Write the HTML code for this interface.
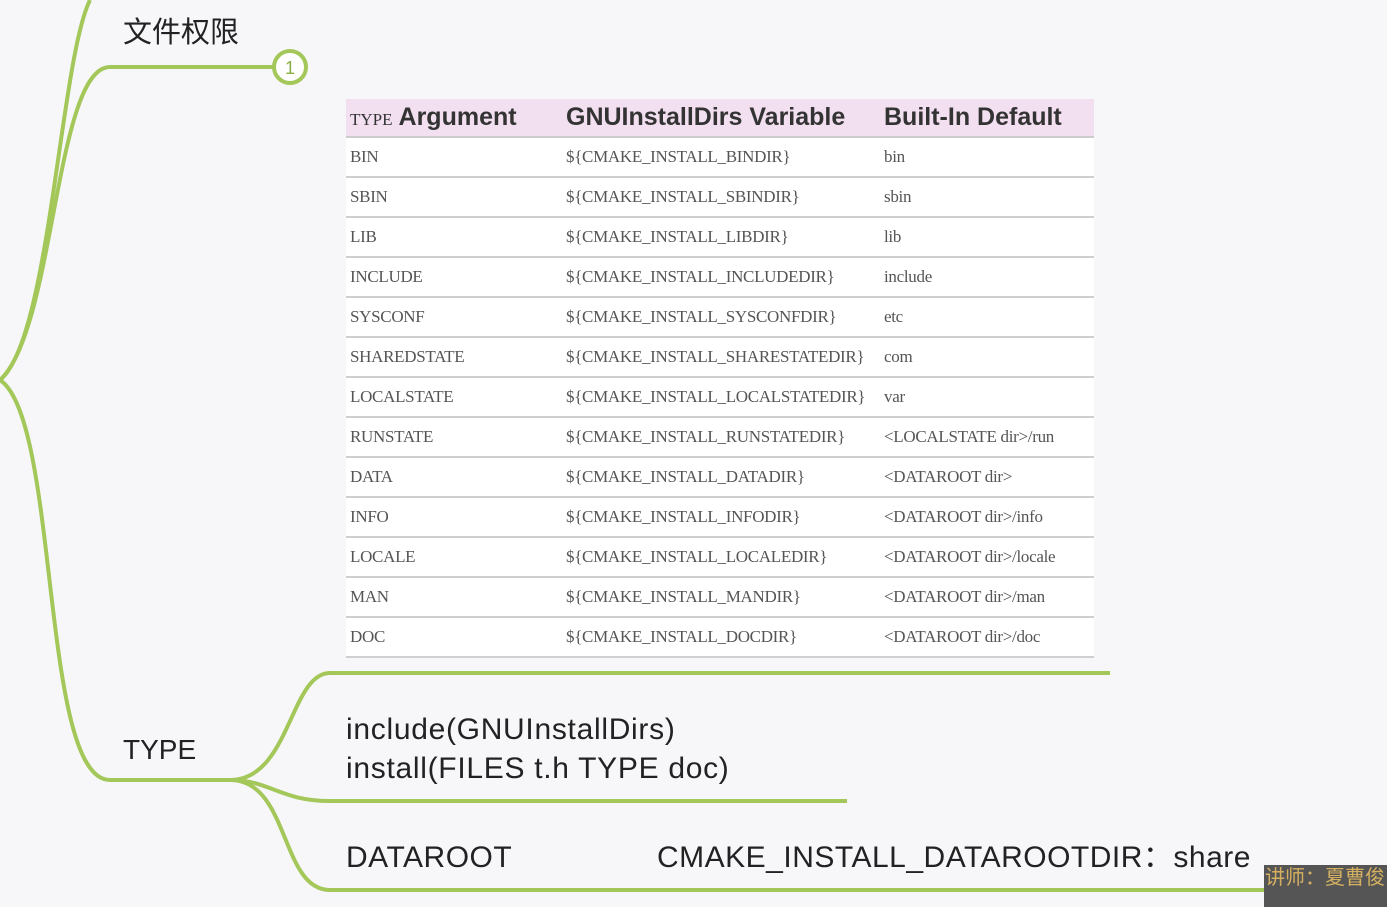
<!DOCTYPE html>
<html><head><meta charset="utf-8"><style>
body{margin:0;width:1387px;height:907px;background:#f7f7fa;position:relative;overflow:hidden;font-family:"Liberation Sans","Noto Sans CJK SC",sans-serif}
.t{position:absolute;color:#222;white-space:nowrap;line-height:36px}
table{position:absolute;left:346px;top:99px;width:748px;border-collapse:collapse;background:#fff;table-layout:fixed}
th{background:#f2dff0;height:37px;text-align:left;font-family:"Liberation Sans",sans-serif;font-size:25px;color:#333;padding:0 0 0 4px;font-weight:bold;border-bottom:2px solid #ccc;white-space:nowrap;overflow:hidden}
td{height:38px;border-bottom:2px solid #cfcfcf;font-family:"Liberation Serif",serif;font-size:17px;letter-spacing:-0.3px;color:#555;padding:0 0 0 4px;white-space:nowrap;overflow:hidden}
</style></head><body>
<svg width="1387" height="907" style="position:absolute;left:0;top:0" fill="none" stroke="#a4c75a" stroke-width="4">
<path d="M0,380 C50,340 60,60 90,0"/>
<path d="M0,380 C55,330 55,67 110,67 L273,67"/>
<circle cx="290" cy="67" r="16" fill="#fff"/>
<path d="M0,380 C60,420 40,780 110,780 L230,780"/>
<path d="M230,780 C290,780 290,673 330,673 L1110,673"/>
<path d="M230,780 C270,780 280,801 330,801 L847,801"/>
<path d="M230,780 C290,780 280,890 330,890 L1265,890"/>
</svg>
<div class="t" style="left:285px;top:50px;font-size:18px;color:#8aae44">1</div>
<div class="t" style="left:123px;top:15px;font-size:29px">文件权限</div>
<div class="t" style="left:123px;top:732px;font-size:28px">TYPE</div>
<div class="t" style="left:346px;top:710px;font-size:30px;line-height:39px;letter-spacing:0.7px">include(GNUInstallDirs)<br>install(FILES t.h TYPE doc)</div>
<div class="t" style="left:346px;top:840px;font-size:30px;letter-spacing:0.5px">DATAROOT</div>
<div class="t" style="left:657px;top:840px;font-size:30px;letter-spacing:0.5px">CMAKE_INSTALL_DATAROOTDIR：share</div>
<div style="position:absolute;left:1264px;top:865px;width:123px;height:42px;background:#555"></div>
<div class="t" style="left:1265px;top:860px;font-size:20px;color:#d4b060">讲师：夏曹俊</div>
<table>
<tr><th style="width:212px"><span style="font-family:'Liberation Serif',serif;font-weight:normal;font-size:17px">TYPE</span> Argument</th><th style="width:314px">GNUInstallDirs Variable</th><th>Built-In Default</th></tr>
<tr><td>BIN</td><td>${CMAKE_INSTALL_BINDIR}</td><td>bin</td></tr>
<tr><td>SBIN</td><td>${CMAKE_INSTALL_SBINDIR}</td><td>sbin</td></tr>
<tr><td>LIB</td><td>${CMAKE_INSTALL_LIBDIR}</td><td>lib</td></tr>
<tr><td>INCLUDE</td><td>${CMAKE_INSTALL_INCLUDEDIR}</td><td>include</td></tr>
<tr><td>SYSCONF</td><td>${CMAKE_INSTALL_SYSCONFDIR}</td><td>etc</td></tr>
<tr><td>SHAREDSTATE</td><td>${CMAKE_INSTALL_SHARESTATEDIR}</td><td>com</td></tr>
<tr><td>LOCALSTATE</td><td>${CMAKE_INSTALL_LOCALSTATEDIR}</td><td>var</td></tr>
<tr><td>RUNSTATE</td><td>${CMAKE_INSTALL_RUNSTATEDIR}</td><td>&lt;LOCALSTATE dir&gt;/run</td></tr>
<tr><td>DATA</td><td>${CMAKE_INSTALL_DATADIR}</td><td>&lt;DATAROOT dir&gt;</td></tr>
<tr><td>INFO</td><td>${CMAKE_INSTALL_INFODIR}</td><td>&lt;DATAROOT dir&gt;/info</td></tr>
<tr><td>LOCALE</td><td>${CMAKE_INSTALL_LOCALEDIR}</td><td>&lt;DATAROOT dir&gt;/locale</td></tr>
<tr><td>MAN</td><td>${CMAKE_INSTALL_MANDIR}</td><td>&lt;DATAROOT dir&gt;/man</td></tr>
<tr><td>DOC</td><td>${CMAKE_INSTALL_DOCDIR}</td><td>&lt;DATAROOT dir&gt;/doc</td></tr>
</table>
</body></html>
